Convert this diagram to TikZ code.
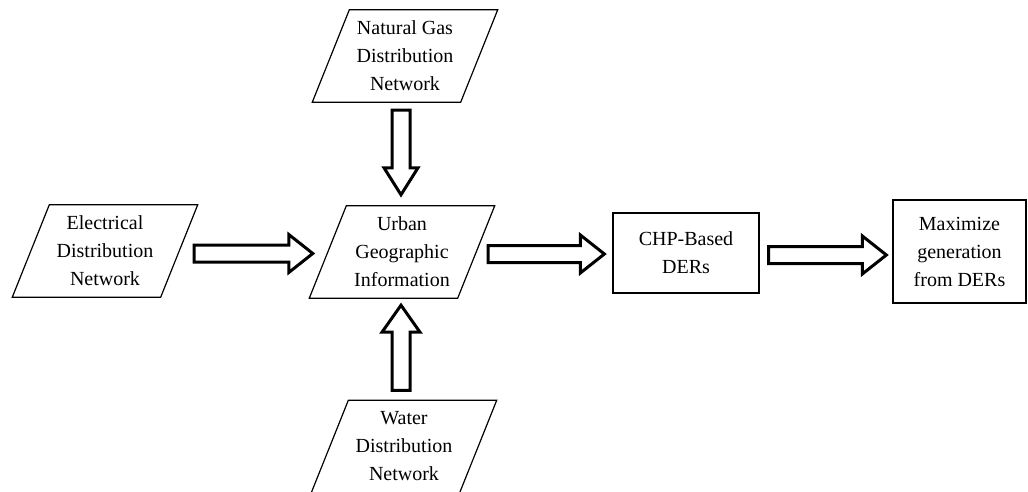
\documentclass[tikz,border=0pt]{standalone}
\usepackage{fontspec}
\setmainfont{Liberation Serif}
\usetikzlibrary{calc}
\tikzset{
  txt/.style={align=center, font=\fontsize{20}{28}\selectfont, inner sep=0pt},
  parabox/.style={txt, rectangle, minimum width=148pt, minimum height=92pt},
  plainbox/.style={txt, rectangle, draw, line width=1.3pt},
  paraline/.style={line width=1.2pt, line join=miter},
  fat/.style={line width=3pt, line join=miter, fill=white}
}
\newcommand{\paradraw}[1]{%
  \draw[paraline] ($(#1.north west)+(18.5,0)$) -- ($(#1.north east)+(18.5,0)$) --
    ($(#1.south east)+(-18.5,0)$) -- ($(#1.south west)+(-18.5,0)$) -- cycle;}
% horizontal fat arrow, #1 start, #2 tip (same y)
\newcommand{\rfat}[2]{%
  \draw[fat] ($(#1)+(0,-8.5)$) -- ($(#2)+(-24,-8.5)$) -- ($(#2)+(-24,-19)$) -- (#2) --
    ($(#2)+(-24,19)$) -- ($(#2)+(-24,8.5)$) -- ($(#1)+(0,8.5)$) -- cycle;}
% vertical fat arrow pointing down
\newcommand{\dfat}[2]{%
  \draw[fat] ($(#1)+(-9,0)$) -- ($(#2)+(-9,27)$) -- ($(#2)+(-17,27)$) -- (#2) --
    ($(#2)+(17,27)$) -- ($(#2)+(9,27)$) -- ($(#1)+(9,0)$) -- cycle;}
% vertical fat arrow pointing up
\newcommand{\ufat}[2]{%
  \draw[fat] ($(#1)+(-9,0)$) -- ($(#2)+(-9,-27)$) -- ($(#2)+(-19,-27)$) -- (#2) --
    ($(#2)+(19,-27)$) -- ($(#2)+(9,-27)$) -- ($(#1)+(9,0)$) -- cycle;}
\begin{document}
\begin{tikzpicture}[x=1pt,y=1pt]
\useasboundingbox[fill=white] (0,0) rectangle (1028,491);

\node[parabox] (elec) at (105,240) {Electrical\\Distribution\\Network};
\node[parabox] (gas) at (405,435) {Natural Gas\\Distribution\\Network};
\node[parabox] (urban) at (402,239) {Urban\\Geographic\\Information};
\node[parabox] (water) at (404,44.5) {Water\\Distribution\\Network};
\node[plainbox, minimum width=146pt, minimum height=80pt] (chp) at (686,238) {CHP-Based\\DERs};
\node[plainbox, minimum width=133pt, minimum height=103pt] (max) at (959.5,239.5) {Maximize\\generation\\from DERs};

\paradraw{elec}
\paradraw{gas}
\paradraw{urban}
\paradraw{water}

\coordinate (a1s) at ($(elec.east)+(15,-2.5)$);
\coordinate (a1t) at ($(a1s -| urban.west)+(-15,0)$);
\rfat{a1s}{a1t}

\coordinate (a2s) at ($(urban.east)+(12,-2)$);
\coordinate (a2t) at ($(a2s -| chp.west)+(-8,0)$);
\rfat{a2s}{a2t}

\coordinate (a3s) at ($(chp.east)+(9,-2)$);
\coordinate (a3t) at ($(a3s -| max.west)+(-6,0)$);
\rfat{a3s}{a3t}

\coordinate (a4s) at ($(gas.south)+(-4,-8)$);
\coordinate (a4t) at ($(a4s |- urban.north)+(0,11)$);
\dfat{a4s}{a4t}

\coordinate (a5s) at ($(water.north)+(-3,10)$);
\coordinate (a5t) at ($(a5s |- urban.south)+(0,-7)$);
\ufat{a5s}{a5t}
\end{tikzpicture}
\end{document}
